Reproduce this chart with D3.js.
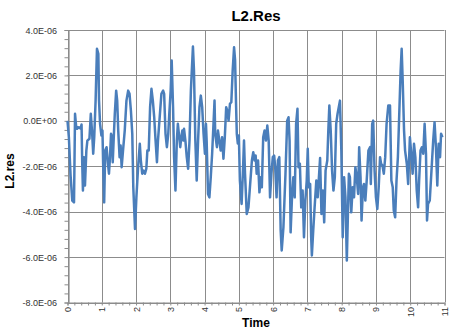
<!DOCTYPE html>
<html>
<head>
<meta charset="utf-8">
<script src="https://cdn.jsdelivr.net/npm/d3@7"></script>
<style>
  body { margin: 0; background: #fff; }
  svg { display: block; font-family: "Liberation Sans", Arial, sans-serif; }
</style>
</head>
<body>
<div id="chart"></div>
<script>
// time axis values
var times = [
  0.00,0.04,0.09,0.14,0.19,0.22,0.25,0.28,0.33,0.38,0.41,0.43,0.45,0.48,0.51,0.55,0.58,0.64,0.68,0.72,
  0.75,0.78,0.82,0.86,0.90,0.92,0.95,0.99,1.02,1.04,1.07,1.10,1.14,1.18,1.21,1.24,1.27,1.30,1.32,1.35,
  1.38,1.42,1.45,1.48,1.52,1.55,1.58,1.62,1.67,1.72,1.77,1.81,1.85,1.89,1.92,1.97,2.01,2.06,2.11,2.14,
  2.18,2.22,2.26,2.30,2.33,2.37,2.41,2.45,2.49,2.53,2.57,2.61,2.64,2.69,2.74,2.79,2.82,2.86,2.90,2.94,
  2.97,3.01,3.04,3.08,3.11,3.15,3.19,3.22,3.26,3.29,3.32,3.35,3.38,3.40,3.44,3.48,3.52,3.56,3.60,3.66,
  3.69,3.73,3.77,3.81,3.85,3.89,3.93,3.97,4.01,4.04,4.06,4.10,4.14,4.18,4.22,4.26,4.29,4.31,4.36,4.39,
  4.43,4.47,4.51,4.55,4.59,4.63,4.66,4.70,4.74,4.78,4.82,4.86,4.89,4.92,4.94,4.97,5.00,5.03,5.08,5.12,
  5.15,5.18,5.23,5.28,5.33,5.38,5.42,5.46,5.49,5.52,5.56,5.60,5.64,5.67,5.71,5.75,5.79,5.83,5.87,5.91,
  5.95,5.99,6.03,6.06,6.10,6.14,6.18,6.22,6.25,6.30,6.36,6.41,6.45,6.48,6.51,6.55,6.59,6.63,6.67,6.71,
  6.74,6.78,6.82,6.86,6.90,6.94,6.98,7.01,7.04,7.08,7.11,7.13,7.17,7.21,7.26,7.30,7.33,7.37,7.41,7.45,
  7.49,7.53,7.58,7.61,7.64,7.68,7.72,7.76,7.80,7.84,7.88,7.95,7.99,8.03,8.07,8.11,8.15,8.18,8.21,8.24,
  8.28,8.32,8.36,8.40,8.44,8.48,8.51,8.55,8.58,8.62,8.65,8.69,8.73,8.78,8.83,8.85,8.89,8.92,8.96,9.00,
  9.04,9.08,9.12,9.15,9.19,9.23,9.27,9.31,9.36,9.41,9.45,9.49,9.52,9.56,9.60,9.64,9.68,9.72,9.75,9.78,
  9.82,9.85,9.90,9.94,9.99,10.03,10.07,10.11,10.15,10.19,10.23,10.26,10.30,10.34,10.38,10.42,10.46,10.49,10.52,10.57,
  10.62,10.67,10.71,10.75,10.79,10.83,10.87,10.90,10.94
];

// L2.res values, in units of 1E-06
var resValues = [
  0.00,-0.72,-2.41,-3.51,-3.59,0.31,-0.21,-0.35,-0.28,-0.34,-0.16,-1.88,-3.07,-1.60,-2.85,-1.31,-0.87,-0.79,0.31,-0.57,
  -1.45,-0.72,0.89,3.17,2.95,0.89,-0.13,-0.65,-0.43,-1.89,-3.59,-1.31,-1.16,-1.89,-2.33,-1.60,-0.57,-0.72,-1.82,-0.72,
  0.31,1.33,0.89,-0.43,-1.60,-1.09,-2.04,-1.31,-0.43,0.89,1.33,1.19,0.45,-0.57,-2.93,-4.76,-3.37,-2.04,-1.01,-1.75,
  -2.33,-2.19,-2.33,-2.11,-1.31,-1.31,0.60,1.41,0.89,0.16,-0.87,-1.82,-0.87,0.16,1.19,1.33,1.19,-0.57,-1.16,-0.57,
  0.31,1.33,2.66,0.60,-1.60,-3.07,-0.87,-0.13,-0.72,-1.16,-0.72,-0.43,-0.87,-0.35,-0.87,-1.60,-2.11,-0.87,1.33,3.27,
  2.22,-0.87,-2.63,-0.87,0.60,1.11,0.60,-0.57,-1.45,-0.13,-0.87,-3.22,-3.37,-2.48,-1.45,-0.13,0.89,-0.57,-1.16,-0.43,
  -0.87,-1.31,-0.72,-1.67,-0.72,0.60,0.45,0.01,0.75,0.82,2.22,3.24,2.66,0.60,-0.57,-1.00,-0.65,-2.63,-3.66,-2.19,
  -0.87,-2.33,-4.10,-3.81,-2.78,-1.75,-1.38,-1.75,-1.53,-2.33,-1.75,-3.15,-2.48,-2.93,-0.72,-0.43,-0.87,-0.21,-0.87,-3.37,
  -2.33,-1.60,-1.53,-2.04,-3.37,-1.75,-1.60,-4.83,-5.71,-4.69,-2.33,0.01,0.16,-0.87,-4.91,-3.37,-2.48,-3.37,-0.13,0.53,
  -2.04,-1.89,-3.81,-3.07,-5.13,-3.51,-2.63,-1.23,-2.93,-2.78,-5.13,-5.93,-4.83,-3.81,-2.63,-3.37,-2.63,-1.64,-4.10,-3.07,
  -4.47,-2.19,-1.75,-0.43,0.67,-0.43,-2.19,-3.07,-2.48,-0.13,0.31,0.89,-1.31,-5.13,-2.48,-3.37,-6.15,-4.25,-2.33,-2.48,
  -4.03,-2.93,-3.37,-2.04,-2.48,-3.22,-1.16,-2.48,-4.39,-2.93,-2.78,-3.51,-2.63,-1.31,-1.16,-2.78,-0.13,0.01,-2.19,-3.37,
  -3.88,-2.93,-1.60,-1.89,-1.97,-2.33,-1.60,-0.13,0.67,0.67,-2.63,-2.93,-3.95,-4.25,-2.63,-1.60,0.31,2.22,3.17,1.78,
  -0.43,-1.31,-1.89,-2.78,-0.72,-1.45,-2.33,-1.01,-1.60,-3.07,-3.81,-2.63,-1.31,-1.16,-1.45,-0.13,-1.45,-4.39,-3.66,-3.51,
  -2.19,-0.87,-0.06,-1.16,-2.85,-1.01,-1.60,-0.57,-0.72
];

var xTicks = [0,1,2,3,4,5,6,7,8,9,10,11];
var yTicks = [4e-6, 2e-6, 0, -2e-6, -4e-6, -6e-6, -8e-6];

var width = 460, height = 333;
var plotLeft = 67.5, plotRight = 444.5, plotTop = 30, plotBottom = 302.5;
var gridColor = "#8c8c8c";

var svg = d3.select("#chart").append("svg")
    .attr("width", width)
    .attr("height", height);

var x = d3.scaleLinear().domain([0, 11]).range([plotLeft, plotRight]);
var y = d3.scaleLinear().domain([-8e-6, 4e-6]).range([plotBottom, plotTop]);

function sciFmt(d) {
    if (Math.abs(d) < 1e-12) return "0.0E+00";
    var s = d.toExponential(1).split("e");
    var e = +s[1];
    var es = (e < 0 ? "-" : "+") + (Math.abs(e) < 10 ? "0" : "") + Math.abs(e);
    return s[0] + "E" + es;
}

// gridlines
svg.append("g").selectAll("line")
    .data(yTicks).enter().append("line")
    .attr("x1", plotLeft).attr("x2", plotRight)
    .attr("y1", function(d) { return Math.round(y(d)) + 0.5; })
    .attr("y2", function(d) { return Math.round(y(d)) + 0.5; })
    .attr("stroke", gridColor).attr("stroke-width", 1);

svg.append("g").selectAll("line")
    .data(xTicks).enter().append("line")
    .attr("y1", plotTop).attr("y2", plotBottom)
    .attr("x1", function(d) { return Math.round(x(d)) + 0.5; })
    .attr("x2", function(d) { return Math.round(x(d)) + 0.5; })
    .attr("stroke", gridColor).attr("stroke-width", 1);

// y axis with minor ticks
var yMinor = d3.range(0, 31).map(function(i) { return -8e-6 + i * 0.4e-6; });
var yAxis = d3.axisLeft(y).tickValues(yMinor).tickSize(4).tickFormat("");
var gy = svg.append("g").attr("transform", "translate(" + Math.round(plotLeft) + ".5,0)").call(yAxis);
gy.selectAll("path, line").attr("stroke", gridColor);
gy.select("path").attr("stroke-width", 1.2);

svg.append("g").selectAll("text")
    .data(yTicks).enter().append("text")
    .attr("x", 57)
    .attr("y", function(d) { return y(d) + 3.5; })
    .attr("text-anchor", "end")
    .attr("font-size", 9)
    .attr("fill", "#333")
    .text(sciFmt);

// x axis with minor ticks
var xMinor = d3.range(0, 56).map(function(i) { return i * 0.2; });
var xAxis = d3.axisBottom(x).tickValues(xMinor).tickSize(3).tickFormat("");
var gx = svg.append("g").attr("transform", "translate(0," + plotBottom + ")").call(xAxis);
gx.selectAll("path, line").attr("stroke", gridColor);

svg.append("g").selectAll("text")
    .data(xTicks).enter().append("text")
    .attr("transform", function(d) { return "translate(" + (x(d) + 3.5) + ",307) rotate(-90)"; })
    .attr("text-anchor", "end")
    .attr("font-size", 9)
    .attr("fill", "#333")
    .text(function(d) { return d; });

// the data line
var pts = times.map(function(t, i) { return [t, resValues[i] * 1e-6]; });
var line = d3.line()
    .x(function(d) { return x(d[0]); })
    .y(function(d) { return y(d[1]); });

svg.append("path")
    .datum(pts)
    .attr("d", line)
    .attr("fill", "none")
    .attr("stroke", "#4a7ebb")
    .attr("stroke-width", 2.5)
    .attr("stroke-linejoin", "round");

// titles
svg.append("text")
    .attr("x", 256).attr("y", 21)
    .attr("text-anchor", "middle")
    .attr("font-size", 15).attr("font-weight", "bold")
    .text("L2.Res");

svg.append("text")
    .attr("transform", "translate(14,171) rotate(-90)")
    .attr("text-anchor", "middle")
    .attr("font-size", 12).attr("font-weight", "bold")
    .text("L2.res");

svg.append("text")
    .attr("x", 256).attr("y", 327)
    .attr("text-anchor", "middle")
    .attr("font-size", 12).attr("font-weight", "bold")
    .text("Time");
</script>
</body>
</html>
